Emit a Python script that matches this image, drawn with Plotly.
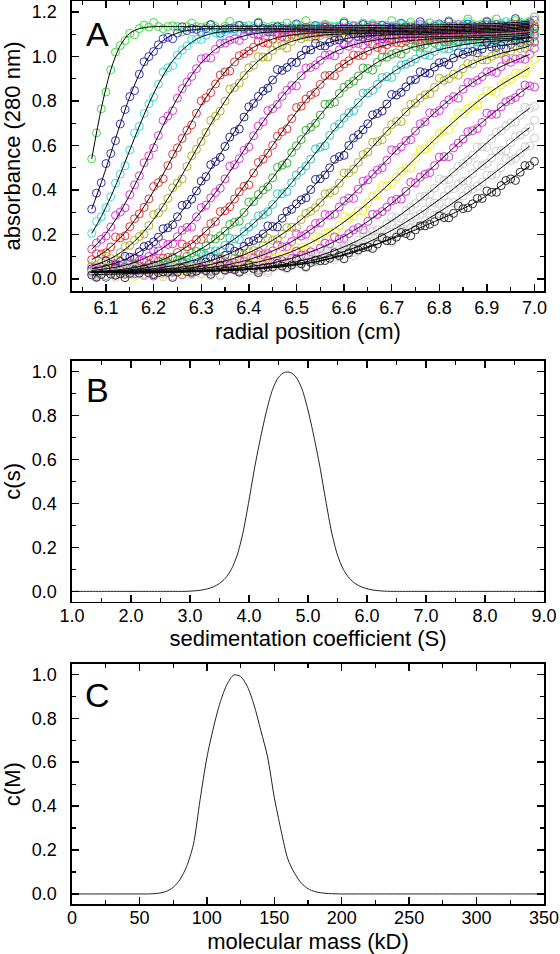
import plotly.graph_objects as go

FONT = "Liberation Sans, Arial, sans-serif"

# ---------------- Panel A data: radial scans (absorbance at 280 nm) ----------------
# fitted boundary profiles, read at these radii
radius = [6.07, 6.09, 6.11, 6.13, 6.15, 6.17, 6.19, 6.21, 6.23, 6.25, 6.27, 6.29, 6.31, 6.33, 6.35, 6.37,
          6.39, 6.41, 6.43, 6.45, 6.47, 6.49, 6.51, 6.53, 6.55, 6.57, 6.59, 6.61, 6.63, 6.65, 6.67, 6.69,
          6.71, 6.73, 6.75, 6.77, 6.79, 6.81, 6.83, 6.85, 6.87, 6.89, 6.91, 6.93, 6.95, 6.97, 6.99]
# scattered data points between them
radius_mid = [6.08, 6.10, 6.12, 6.14, 6.16, 6.18, 6.20, 6.22, 6.24, 6.26, 6.28, 6.30, 6.32, 6.34, 6.36, 6.38,
              6.40, 6.42, 6.44, 6.46, 6.48, 6.50, 6.52, 6.54, 6.56, 6.58, 6.60, 6.62, 6.64, 6.66, 6.68, 6.70,
              6.72, 6.74, 6.76, 6.78, 6.80, 6.82, 6.84, 6.86, 6.88, 6.90, 6.92, 6.94, 6.96, 6.98, 7.00]

scan01 = [0.54, 0.765, 0.94, 1.05, 1.105, 1.126, 1.133, 1.135, 1.135, 1.135, 1.135, 1.135, 1.135, 1.135, 1.136, 1.136,
          1.136, 1.136, 1.137, 1.137, 1.137, 1.137, 1.138, 1.138, 1.138, 1.138, 1.139, 1.139, 1.139, 1.14, 1.14, 1.14,
          1.141, 1.141, 1.142, 1.142, 1.143, 1.143, 1.144, 1.145, 1.146, 1.147, 1.148, 1.15, 1.152, 1.155, 1.16]
scan02 = [0.314, 0.433, 0.564, 0.697, 0.82, 0.921, 1.0, 1.053, 1.087, 1.106, 1.117, 1.122, 1.125, 1.125, 1.125, 1.126,
          1.126, 1.126, 1.127, 1.127, 1.127, 1.128, 1.128, 1.128, 1.129, 1.129, 1.13, 1.13, 1.13, 1.131, 1.131, 1.132,
          1.132, 1.133, 1.133, 1.134, 1.135, 1.135, 1.136, 1.137, 1.138, 1.139, 1.14, 1.142, 1.144, 1.147, 1.152]
scan03 = [0.205, 0.28, 0.37, 0.471, 0.58, 0.687, 0.788, 0.876, 0.95, 1.007, 1.048, 1.078, 1.096, 1.107, 1.113, 1.117,
          1.119, 1.12, 1.12, 1.12, 1.121, 1.121, 1.121, 1.122, 1.122, 1.122, 1.123, 1.123, 1.124, 1.124, 1.125, 1.125,
          1.126, 1.126, 1.127, 1.127, 1.128, 1.129, 1.13, 1.131, 1.132, 1.133, 1.134, 1.136, 1.138, 1.141, 1.146]
scan04 = [0.134, 0.178, 0.234, 0.301, 0.379, 0.464, 0.554, 0.645, 0.733, 0.813, 0.885, 0.946, 0.995, 1.033, 1.061, 1.08,
          1.093, 1.102, 1.108, 1.111, 1.113, 1.114, 1.115, 1.115, 1.115, 1.116, 1.116, 1.116, 1.117, 1.117, 1.118, 1.118,
          1.119, 1.119, 1.12, 1.12, 1.121, 1.122, 1.123, 1.124, 1.125, 1.126, 1.127, 1.129, 1.131, 1.134, 1.139]
scan05 = [0.087, 0.112, 0.144, 0.185, 0.235, 0.293, 0.36, 0.433, 0.51, 0.59, 0.668, 0.745, 0.815, 0.877, 0.931, 0.976,
          1.013, 1.042, 1.063, 1.079, 1.09, 1.097, 1.102, 1.106, 1.108, 1.109, 1.11, 1.11, 1.111, 1.111, 1.112, 1.112,
          1.113, 1.113, 1.114, 1.114, 1.115, 1.116, 1.117, 1.118, 1.119, 1.12, 1.121, 1.123, 1.125, 1.128, 1.133]
scan06 = [0.059, 0.073, 0.092, 0.118, 0.151, 0.191, 0.24, 0.297, 0.362, 0.432, 0.506, 0.583, 0.659, 0.732, 0.80, 0.861,
          0.915, 0.961, 0.998, 1.028, 1.051, 1.068, 1.08, 1.089, 1.095, 1.099, 1.101, 1.103, 1.104, 1.105, 1.105, 1.106,
          1.106, 1.107, 1.107, 1.108, 1.109, 1.11, 1.111, 1.112, 1.113, 1.114, 1.115, 1.117, 1.119, 1.122, 1.127]
scan07 = [0.046, 0.054, 0.065, 0.079, 0.098, 0.122, 0.151, 0.188, 0.23, 0.28, 0.335, 0.396, 0.46, 0.528, 0.596, 0.663,
          0.728, 0.789, 0.845, 0.895, 0.938, 0.975, 1.006, 1.03, 1.049, 1.064, 1.075, 1.083, 1.089, 1.093, 1.096, 1.098,
          1.099, 1.1, 1.1, 1.101, 1.102, 1.103, 1.104, 1.105, 1.106, 1.107, 1.108, 1.11, 1.112, 1.115, 1.12]
scan08 = [0.038, 0.043, 0.049, 0.057, 0.068, 0.083, 0.102, 0.126, 0.155, 0.19, 0.232, 0.279, 0.332, 0.389, 0.45, 0.514,
          0.579, 0.644, 0.707, 0.766, 0.821, 0.87, 0.914, 0.951, 0.983, 1.009, 1.03, 1.046, 1.059, 1.068, 1.075, 1.08,
          1.083, 1.086, 1.087, 1.088, 1.089, 1.09, 1.091, 1.092, 1.093, 1.094, 1.096, 1.098, 1.1, 1.103, 1.108]
scan09 = [0.034, 0.035, 0.038, 0.042, 0.048, 0.056, 0.066, 0.08, 0.097, 0.119, 0.145, 0.177, 0.215, 0.258, 0.307, 0.36,
          0.417, 0.477, 0.539, 0.601, 0.662, 0.721, 0.777, 0.828, 0.875, 0.916, 0.951, 0.981, 1.005, 1.025, 1.041, 1.053,
          1.063, 1.07, 1.074, 1.078, 1.08, 1.082, 1.083, 1.084, 1.085, 1.086, 1.087, 1.089, 1.091, 1.094, 1.099]
scan10 = [0.032, 0.033, 0.035, 0.038, 0.041, 0.046, 0.052, 0.06, 0.071, 0.085, 0.102, 0.124, 0.149, 0.18, 0.215, 0.255,
          0.299, 0.348, 0.40, 0.455, 0.512, 0.569, 0.627, 0.683, 0.737, 0.787, 0.834, 0.876, 0.913, 0.946, 0.974, 0.997,
          1.017, 1.032, 1.045, 1.054, 1.061, 1.067, 1.071, 1.074, 1.076, 1.077, 1.078, 1.08, 1.082, 1.085, 1.09]
scan11 = [0.031, 0.032, 0.033, 0.035, 0.037, 0.04, 0.044, 0.049, 0.056, 0.064, 0.076, 0.089, 0.107, 0.127, 0.152, 0.18,
          0.213, 0.25, 0.29, 0.335, 0.383, 0.433, 0.486, 0.539, 0.593, 0.646, 0.697, 0.747, 0.793, 0.836, 0.875, 0.91,
          0.94, 0.966, 0.989, 1.008, 1.023, 1.036, 1.045, 1.053, 1.059, 1.064, 1.068, 1.072, 1.075, 1.08, 1.085]
scan12 = [0.031, 0.031, 0.032, 0.033, 0.034, 0.036, 0.038, 0.041, 0.045, 0.05, 0.057, 0.066, 0.077, 0.09, 0.106, 0.125,
          0.147, 0.173, 0.203, 0.236, 0.273, 0.313, 0.356, 0.402, 0.451, 0.50, 0.55, 0.60, 0.649, 0.698, 0.744, 0.787,
          0.827, 0.864, 0.897, 0.927, 0.953, 0.975, 0.994, 1.01, 1.023, 1.034, 1.043, 1.05, 1.055, 1.062, 1.07]
scan13 = [0.031, 0.031, 0.031, 0.032, 0.033, 0.034, 0.035, 0.037, 0.04, 0.043, 0.048, 0.054, 0.061, 0.07, 0.081, 0.094,
          0.109, 0.128, 0.149, 0.174, 0.202, 0.233, 0.267, 0.304, 0.344, 0.387, 0.431, 0.477, 0.524, 0.571, 0.618, 0.664,
          0.708, 0.751, 0.791, 0.828, 0.862, 0.893, 0.921, 0.946, 0.967, 0.986, 1.001, 1.015, 1.025, 1.036, 1.048]
scan14 = [0.03, 0.031, 0.031, 0.031, 0.032, 0.032, 0.033, 0.035, 0.036, 0.038, 0.041, 0.045, 0.049, 0.055, 0.062, 0.071,
          0.081, 0.094, 0.108, 0.126, 0.145, 0.168, 0.193, 0.222, 0.253, 0.287, 0.324, 0.363, 0.404, 0.446, 0.49, 0.534,
          0.578, 0.622, 0.665, 0.707, 0.747, 0.785, 0.82, 0.853, 0.883, 0.91, 0.934, 0.955, 0.974, 0.992, 1.01]
scan15 = [0.03, 0.03, 0.031, 0.031, 0.031, 0.032, 0.032, 0.033, 0.034, 0.035, 0.037, 0.039, 0.042, 0.046, 0.051, 0.056,
          0.063, 0.072, 0.082, 0.094, 0.107, 0.123, 0.142, 0.163, 0.186, 0.212, 0.241, 0.272, 0.306, 0.342, 0.379, 0.418,
          0.459, 0.50, 0.543, 0.585, 0.626, 0.667, 0.706, 0.743, 0.779, 0.813, 0.844, 0.873, 0.899, 0.924, 0.95]
scan16 = [0.03, 0.03, 0.03, 0.031, 0.031, 0.031, 0.031, 0.032, 0.033, 0.033, 0.035, 0.036, 0.038, 0.041, 0.043, 0.047,
          0.052, 0.058, 0.064, 0.072, 0.082, 0.093, 0.107, 0.122, 0.139, 0.158, 0.18, 0.204, 0.231, 0.259, 0.29, 0.323,
          0.358, 0.394, 0.432, 0.471, 0.51, 0.55, 0.59, 0.629, 0.667, 0.704, 0.74, 0.774, 0.805, 0.837, 0.868]
scan17 = [0.03, 0.03, 0.03, 0.03, 0.031, 0.031, 0.031, 0.031, 0.032, 0.032, 0.033, 0.034, 0.035, 0.037, 0.039, 0.041,
          0.045, 0.048, 0.053, 0.059, 0.065, 0.073, 0.083, 0.093, 0.106, 0.12, 0.136, 0.154, 0.174, 0.197, 0.221, 0.248,
          0.276, 0.307, 0.339, 0.373, 0.408, 0.444, 0.481, 0.519, 0.556, 0.594, 0.631, 0.667, 0.702, 0.736, 0.768]
scan18 = [0.03, 0.03, 0.03, 0.03, 0.03, 0.031, 0.031, 0.031, 0.032, 0.032, 0.033, 0.034, 0.035, 0.036, 0.038, 0.04,
          0.043, 0.046, 0.05, 0.054, 0.06, 0.066, 0.073, 0.082, 0.092, 0.103, 0.116, 0.131, 0.147, 0.165, 0.185, 0.207,
          0.23, 0.256, 0.283, 0.311, 0.342, 0.373, 0.406, 0.44, 0.474, 0.509, 0.544, 0.579, 0.613, 0.648, 0.681]
scan19 = [0.03, 0.03, 0.03, 0.03, 0.03, 0.031, 0.031, 0.031, 0.031, 0.032, 0.032, 0.033, 0.035, 0.036, 0.037, 0.039,
          0.041, 0.044, 0.047, 0.051, 0.055, 0.06, 0.066, 0.073, 0.081, 0.091, 0.101, 0.113, 0.126, 0.141, 0.157, 0.175,
          0.194, 0.216, 0.238, 0.262, 0.288, 0.315, 0.344, 0.373, 0.404, 0.435, 0.467, 0.50, 0.533, 0.565, 0.598]
scan20 = [0.018, 0.02, 0.022, 0.023, 0.025, 0.026, 0.027, 0.028, 0.03, 0.031, 0.033, 0.035, 0.037, 0.038, 0.04, 0.042,
          0.044, 0.047, 0.05, 0.054, 0.058, 0.063, 0.068, 0.074, 0.082, 0.093, 0.105, 0.118, 0.131, 0.145, 0.157, 0.172,
          0.188, 0.204, 0.221, 0.239, 0.258, 0.276, 0.295, 0.316, 0.338, 0.362, 0.39, 0.42, 0.45, 0.48, 0.51]

mid01 = [0.657, 0.841, 1.02, 1.072, 1.098, 1.142, 1.154, 1.126, 1.138, 1.111, 1.151, 1.131, 1.145, 1.119, 1.158, 1.142,
         1.123, 1.155, 1.117, 1.138, 1.151, 1.128, 1.162, 1.122, 1.145, 1.134, 1.158, 1.118, 1.151, 1.143, 1.126, 1.162,
         1.133, 1.155, 1.123, 1.152, 1.14, 1.161, 1.134, 1.169, 1.14, 1.16, 1.169, 1.136, 1.162, 1.136, 1.178]
mid02 = [0.386, 0.519, 0.622, 0.762, 0.847, 0.977, 1.023, 1.08, 1.08, 1.134, 1.126, 1.111, 1.143, 1.105, 1.127, 1.14,
         1.116, 1.151, 1.111, 1.134, 1.123, 1.147, 1.107, 1.14, 1.132, 1.116, 1.151, 1.122, 1.144, 1.112, 1.141, 1.129,
         1.15, 1.122, 1.157, 1.128, 1.147, 1.156, 1.122, 1.146, 1.117, 1.155, 1.145, 1.131, 1.171, 1.144, 1.137]
mid03 = [0.259, 0.321, 0.431, 0.509, 0.656, 0.744, 0.819, 0.931, 0.959, 1.029, 1.077, 1.077, 1.126, 1.094, 1.122, 1.113,
         1.139, 1.099, 1.131, 1.124, 1.107, 1.142, 1.114, 1.135, 1.103, 1.132, 1.12, 1.141, 1.113, 1.148, 1.118, 1.138,
         1.146, 1.112, 1.135, 1.106, 1.144, 1.134, 1.119, 1.157, 1.127, 1.116, 1.147, 1.157, 1.131, 1.147, 1.125]
mid04 = [0.162, 0.193, 0.286, 0.32, 0.423, 0.523, 0.59, 0.713, 0.757, 0.856, 0.911, 0.99, 0.993, 1.058, 1.074, 1.073,
         1.119, 1.097, 1.123, 1.093, 1.123, 1.112, 1.132, 1.104, 1.139, 1.109, 1.128, 1.137, 1.102, 1.126, 1.096, 1.134,
         1.123, 1.108, 1.145, 1.115, 1.104, 1.135, 1.144, 1.116, 1.129, 1.103, 1.144, 1.126, 1.143, 1.12, 1.164]
mid05 = [0.114, 0.118, 0.189, 0.194, 0.271, 0.322, 0.416, 0.451, 0.561, 0.632, 0.693, 0.801, 0.838, 0.917, 0.935, 1.004,
         1.025, 1.07, 1.06, 1.108, 1.087, 1.112, 1.124, 1.092, 1.117, 1.088, 1.125, 1.115, 1.099, 1.137, 1.106, 1.095,
         1.125, 1.134, 1.105, 1.118, 1.092, 1.133, 1.114, 1.129, 1.103, 1.143, 1.128, 1.111, 1.145, 1.111, 1.137]
mid06 = [0.061, 0.102, 0.084, 0.146, 0.174, 0.202, 0.29, 0.322, 0.41, 0.45, 0.554, 0.618, 0.713, 0.755, 0.854, 0.881,
         0.95, 1.0, 0.998, 1.048, 1.038, 1.089, 1.089, 1.08, 1.122, 1.094, 1.084, 1.116, 1.125, 1.096, 1.109, 1.082,
         1.123, 1.103, 1.118, 1.092, 1.132, 1.117, 1.099, 1.131, 1.094, 1.116, 1.13, 1.108, 1.145, 1.109, 1.137]
mid07 = [0.036, 0.081, 0.064, 0.102, 0.091, 0.146, 0.167, 0.226, 0.244, 0.331, 0.359, 0.44, 0.514, 0.547, 0.638, 0.674,
         0.774, 0.821, 0.858, 0.942, 0.951, 0.973, 1.03, 1.06, 1.048, 1.073, 1.055, 1.102, 1.087, 1.105, 1.08, 1.121,
         1.106, 1.087, 1.119, 1.082, 1.104, 1.118, 1.095, 1.13, 1.091, 1.115, 1.104, 1.13, 1.093, 1.129, 1.126]
mid08 = [0.05, 0.043, 0.07, 0.052, 0.099, 0.086, 0.126, 0.161, 0.158, 0.219, 0.234, 0.321, 0.365, 0.408, 0.507, 0.541,
         0.594, 0.688, 0.757, 0.785, 0.849, 0.868, 0.949, 0.963, 1.006, 1.003, 1.06, 1.059, 1.051, 1.09, 1.058, 1.083,
         1.099, 1.077, 1.112, 1.073, 1.097, 1.086, 1.111, 1.072, 1.105, 1.098, 1.083, 1.12, 1.094, 1.119, 1.092]
mid09 = [0.028, 0.049, 0.06, 0.03, 0.06, 0.039, 0.088, 0.093, 0.096, 0.157, 0.155, 0.178, 0.249, 0.303, 0.325, 0.392,
         0.423, 0.524, 0.566, 0.642, 0.675, 0.771, 0.809, 0.839, 0.914, 0.914, 0.967, 1.007, 1.005, 1.057, 1.031, 1.065,
         1.062, 1.091, 1.055, 1.09, 1.084, 1.069, 1.105, 1.077, 1.099, 1.068, 1.097, 1.087, 1.11, 1.086, 1.125]
mid10 = [0.011, 0.049, 0.041, 0.028, 0.069, 0.043, 0.038, 0.078, 0.098, 0.085, 0.116, 0.113, 0.181, 0.194, 0.245, 0.26,
         0.346, 0.38, 0.415, 0.502, 0.521, 0.599, 0.669, 0.70, 0.786, 0.795, 0.862, 0.89, 0.949, 0.939, 0.997, 1.01,
         1.011, 1.06, 1.042, 1.071, 1.045, 1.078, 1.07, 1.092, 1.066, 1.101, 1.072, 1.093, 1.104, 1.073, 1.101]
mid11 = [0.026, 0.015, 0.046, 0.056, 0.03, 0.045, 0.023, 0.069, 0.056, 0.08, 0.066, 0.12, 0.123, 0.127, 0.184, 0.177,
         0.233, 0.284, 0.303, 0.383, 0.392, 0.467, 0.508, 0.585, 0.599, 0.683, 0.725, 0.756, 0.836, 0.848, 0.906, 0.906,
         0.962, 0.975, 1.016, 1.005, 1.053, 1.034, 1.061, 1.076, 1.047, 1.074, 1.048, 1.089, 1.082, 1.071, 1.113]
mid12 = [0.034, 0.008, 0.049, 0.03, 0.045, 0.02, 0.062, 0.049, 0.035, 0.072, 0.042, 0.073, 0.098, 0.088, 0.14, 0.12,
         0.167, 0.183, 0.239, 0.234, 0.304, 0.338, 0.365, 0.448, 0.468, 0.538, 0.556, 0.634, 0.671, 0.738, 0.755, 0.83,
         0.839, 0.893, 0.932, 0.925, 0.972, 0.963, 1.017, 1.021, 1.017, 1.064, 1.041, 1.035, 1.071, 1.086, 1.065]
mid13 = [0.014, 0.053, 0.038, 0.02, 0.052, 0.015, 0.037, 0.053, 0.032, 0.07, 0.035, 0.065, 0.061, 0.095, 0.067, 0.113,
         0.122, 0.125, 0.183, 0.18, 0.231, 0.231, 0.295, 0.321, 0.383, 0.398, 0.477, 0.494, 0.56, 0.615, 0.626, 0.694,
         0.708, 0.786, 0.814, 0.833, 0.903, 0.901, 0.916, 0.969, 0.997, 0.985, 1.011, 0.996, 1.047, 1.038, 1.064]
mid14 = [0.011, 0.032, 0.045, 0.022, 0.056, 0.017, 0.041, 0.031, 0.056, 0.019, 0.054, 0.05, 0.038, 0.08, 0.059, 0.089,
         0.069, 0.11, 0.114, 0.153, 0.146, 0.204, 0.201, 0.25, 0.29, 0.291, 0.352, 0.362, 0.44, 0.472, 0.50, 0.581,
         0.594, 0.626, 0.698, 0.747, 0.757, 0.806, 0.813, 0.884, 0.893, 0.932, 0.928, 0.987, 0.989, 0.988, 1.037]
mid15 = [0.014, 0.038, 0.026, 0.05, 0.011, 0.043, 0.036, 0.02, 0.056, 0.028, 0.051, 0.022, 0.053, 0.046, 0.071, 0.049,
         0.091, 0.07, 0.10, 0.121, 0.10, 0.141, 0.131, 0.19, 0.203, 0.215, 0.282, 0.283, 0.306, 0.373, 0.419, 0.43,
         0.483, 0.498, 0.58, 0.602, 0.657, 0.67, 0.747, 0.767, 0.783, 0.847, 0.839, 0.887, 0.926, 0.927, 0.987]
mid16 = [0.041, 0.033, 0.017, 0.052, 0.023, 0.044, 0.013, 0.042, 0.03, 0.051, 0.025, 0.06, 0.033, 0.054, 0.065, 0.035,
         0.063, 0.039, 0.083, 0.081, 0.076, 0.125, 0.109, 0.113, 0.161, 0.189, 0.183, 0.221, 0.221, 0.291, 0.303, 0.351,
         0.359, 0.435, 0.458, 0.478, 0.548, 0.55, 0.611, 0.662, 0.676, 0.746, 0.741, 0.797, 0.816, 0.872, 0.863]
mid17 = [0.043, 0.011, 0.039, 0.028, 0.048, 0.02, 0.054, 0.025, 0.044, 0.053, 0.019, 0.043, 0.014, 0.053, 0.044, 0.031,
         0.072, 0.045, 0.038, 0.074, 0.089, 0.069, 0.091, 0.076, 0.129, 0.124, 0.155, 0.147, 0.208, 0.215, 0.222, 0.28,
         0.272, 0.324, 0.37, 0.381, 0.45, 0.447, 0.507, 0.533, 0.594, 0.592, 0.66, 0.688, 0.705, 0.773, 0.776]
mid18 = [0.019, 0.053, 0.023, 0.042, 0.051, 0.016, 0.039, 0.01, 0.047, 0.037, 0.022, 0.06, 0.03, 0.019, 0.051, 0.062,
         0.036, 0.051, 0.028, 0.073, 0.059, 0.08, 0.061, 0.109, 0.104, 0.097, 0.142, 0.119, 0.157, 0.189, 0.186, 0.243,
         0.227, 0.277, 0.292, 0.346, 0.337, 0.401, 0.426, 0.443, 0.513, 0.519, 0.575, 0.577, 0.64, 0.662, 0.714]
mid19 = [0.015, 0.038, 0.008, 0.045, 0.035, 0.019, 0.056, 0.025, 0.014, 0.044, 0.053, 0.025, 0.039, 0.013, 0.054, 0.036,
         0.053, 0.029, 0.071, 0.059, 0.045, 0.081, 0.05, 0.078, 0.10, 0.086, 0.131, 0.104, 0.141, 0.144, 0.185, 0.164,
         0.216, 0.23, 0.236, 0.296, 0.294, 0.343, 0.34, 0.398, 0.417, 0.468, 0.473, 0.54, 0.542, 0.594, 0.634]
mid20 = [0.007, 0.046, 0.017, 0.006, 0.038, 0.047, 0.019, 0.032, 0.007, 0.048, 0.03, 0.046, 0.021, 0.061, 0.047, 0.03,
         0.064, 0.029, 0.053, 0.07, 0.051, 0.09, 0.055, 0.085, 0.083, 0.118, 0.091, 0.136, 0.141, 0.137, 0.186, 0.172,
         0.209, 0.194, 0.239, 0.246, 0.284, 0.275, 0.329, 0.32, 0.362, 0.396, 0.39, 0.443, 0.443, 0.51, 0.529]

scans = [scan01, scan02, scan03, scan04, scan05, scan06, scan07, scan08, scan09, scan10,
         scan11, scan12, scan13, scan14, scan15, scan16, scan17, scan18, scan19, scan20]
mids = [mid01, mid02, mid03, mid04, mid05, mid06, mid07, mid08, mid09, mid10,
        mid11, mid12, mid13, mid14, mid15, mid16, mid17, mid18, mid19, mid20]
scan_colors = ["#3ee03e", "#3434c8", "#38dede", "#e036e0", "#e83434", "#b0b024", "#24249a", "#e036e0",
               "#e83434", "#34b034", "#34c4c4", "#24249a", "#b0b024", "#e036e0", "#f2f222", "#d634d6",
               "#cdcdcd", "#cdcdcd", "#cdcdcd", "#303030"]

# ---------------- Panel B data: c(s) distribution ----------------
s_values = [1.0, 1.1, 1.2, 1.3, 1.4, 1.5, 1.6, 1.7, 1.8, 1.9, 2.0, 2.1, 2.2, 2.3, 2.4, 2.5, 2.6, 2.7, 2.8, 2.9,
            3.0, 3.1, 3.2, 3.3, 3.4, 3.5, 3.6, 3.7, 3.8, 3.9, 4.0, 4.1, 4.2, 4.3, 4.4, 4.5, 4.6, 4.7, 4.8, 4.9,
            5.0, 5.1, 5.2, 5.3, 5.4, 5.5, 5.6, 5.7, 5.8, 5.9, 6.0, 6.1, 6.2, 6.3, 6.4, 6.5, 6.6, 6.7, 6.8, 6.9,
            7.0, 7.1, 7.2, 7.3, 7.4, 7.5, 7.6, 7.7, 7.8, 7.9, 8.0, 8.1, 8.2, 8.3, 8.4, 8.5, 8.6, 8.7, 8.8, 8.9, 9.0]
c_s = [0, 0, 0, 0, 0, 0, 0, 0, 0, 0, 0, 0, 0, 0, 0, 0, 0, 0, 0, 0,
       0.001, 0.003, 0.006, 0.012, 0.021, 0.036, 0.06, 0.10, 0.165, 0.27, 0.415, 0.57, 0.705, 0.825, 0.92, 0.975, 0.997, 0.997, 0.975, 0.92,
       0.825, 0.705, 0.57, 0.415, 0.27, 0.165, 0.10, 0.06, 0.036, 0.021, 0.012, 0.006, 0.003, 0.001, 0, 0, 0, 0, 0, 0,
       0, 0, 0, 0, 0, 0, 0, 0, 0, 0, 0, 0, 0, 0, 0, 0, 0, 0, 0, 0, 0]

# ---------------- Panel C data: c(M) distribution ----------------
mass_kd = [0, 5, 10, 15, 20, 25, 30, 35, 40, 45, 50, 55, 60, 65, 70, 75, 80, 85, 90, 95, 100, 105, 110, 115,
           120, 125, 130, 135, 140, 145, 150, 155, 160, 165, 170, 175, 180, 185, 190, 195, 200, 205, 210, 215,
           220, 225, 230, 235, 240, 245, 250, 255, 260, 265, 270, 275, 280, 285, 290, 295, 300, 305, 310, 315,
           320, 325, 330, 335, 340, 345, 350]
c_m = [0, 0, 0, 0, 0, 0, 0, 0, 0, 0, 0, 0, 0.001, 0.004, 0.012, 0.03, 0.065, 0.125, 0.225, 0.43, 0.62, 0.76, 0.875, 0.955,
       0.997, 0.99, 0.945, 0.86, 0.745, 0.625, 0.44, 0.29, 0.16, 0.095, 0.05, 0.024, 0.011, 0.005, 0.002, 0.001, 0, 0, 0, 0,
       0, 0, 0, 0, 0, 0, 0, 0, 0, 0, 0, 0, 0, 0, 0, 0, 0, 0, 0, 0,
       0, 0, 0, 0, 0, 0, 0]

fig = go.Figure()

# data circles
for vals, mvals, col in zip(scans, mids, scan_colors):
    for xs, ys in ((radius, vals), (radius_mid, mvals)):
        fig.add_trace(go.Scatter(x=xs, y=ys, mode="markers", xaxis="x", yaxis="y",
                                 marker=dict(symbol="circle-open", size=8, color=col, line=dict(width=1)),
                                 showlegend=False, hoverinfo="skip"))
# fit lines
for vals in scans:
    fig.add_trace(go.Scatter(x=radius, y=vals, mode="lines", xaxis="x", yaxis="y",
                             line=dict(color="black", width=1, shape="spline", smoothing=0.8),
                             showlegend=False, hoverinfo="skip"))

fig.add_trace(go.Scatter(x=s_values, y=c_s, mode="lines", xaxis="x2", yaxis="y2",
                         line=dict(color="#222222", width=1, shape="spline", smoothing=0.8), showlegend=False))
fig.add_trace(go.Scatter(x=mass_kd, y=c_m, mode="lines", xaxis="x3", yaxis="y3",
                         line=dict(color="#222222", width=1, shape="spline", smoothing=0.8), showlegend=False))

tickfont = dict(family=FONT, size=18, color="black")
titlefont = dict(family=FONT, size=22, color="black")


def ax(**kw):
    base = dict(showline=True, linecolor="black", linewidth=1.6, mirror="allticks",
                ticks="inside", ticklen=7, tickwidth=1.4, tickcolor="black",
                showgrid=False, zeroline=False, tickfont=tickfont, automargin=False)
    base.update(kw)
    return base


MINOR = dict(ticks="inside", ticklen=4, tickwidth=1.2, tickcolor="black")

fig.update_layout(
    width=560, height=954,
    margin=dict(l=72, r=16, t=0, b=0),
    paper_bgcolor="white", plot_bgcolor="white",
    font=dict(family=FONT, color="black"),
    xaxis=ax(domain=[0, 1], anchor="y", range=[6.0286, 7.02], tick0=6.0, dtick=0.1, tickformat=".1f",
             minor=dict(MINOR, dtick=0.05, tick0=6.0),
             title=dict(text="radial position (cm)", font=titlefont, standoff=6), ticklabelstandoff=0),
    yaxis=ax(domain=[0.69497, 0.99895], anchor="x", range=[-0.054, 1.25], tick0=0, dtick=0.2, tickformat=".1f",
             minor=dict(MINOR, dtick=0.1, tick0=0),
             title=dict(text="absorbance (280 nm)", font=titlefont, standoff=5), ticklabelstandoff=10),
    xaxis2=ax(domain=[0, 1], anchor="y2", range=[1, 9], tick0=1, dtick=1, tickformat=".1f",
              minor=dict(MINOR, dtick=0.5, tick0=1),
              title=dict(text="sedimentation coefficient (S)", font=titlefont, standoff=5), ticklabelstandoff=-3),
    yaxis2=ax(domain=[0.36929, 0.62159], anchor="x2", range=[-0.047, 1.049], tick0=0, dtick=0.2, tickformat=".1f",
              minor=dict(MINOR, dtick=0.1, tick0=0),
              title=dict(text="c(s)", font=titlefont, standoff=5), ticklabelstandoff=10),
    xaxis3=ax(domain=[0, 1], anchor="y3", range=[0, 350], tick0=0, dtick=50,
              minor=dict(MINOR, dtick=25, tick0=0),
              title=dict(text="molecular mass (kD)", font=titlefont, standoff=6), ticklabelstandoff=-3),
    yaxis3=ax(domain=[0.05210, 0.30398], anchor="x3", range=[-0.047, 1.047], tick0=0, dtick=0.2, tickformat=".1f",
              minor=dict(MINOR, dtick=0.1, tick0=0),
              title=dict(text="c(M)", font=titlefont, standoff=5), ticklabelstandoff=10),
)

letter_font = dict(family=FONT, size=34, color="black")
for lab, xr, yr, yy in [("A", "x domain", "y domain", 0.886), ("B", "x2 domain", "y2 domain", 0.88),
                        ("C", "x3 domain", "y3 domain", 0.871)]:
    fig.add_annotation(text=lab, x=0.053, y=yy, xref=xr, yref=yr, showarrow=False,
                       xanchor="center", yanchor="middle", font=letter_font)

fig.write_html("out.html", config={"displayModeBar": False, "staticPlot": True},
               post_script="document.body.style.margin='0';document.body.style.padding='0';"
                           "document.body.style.overflow='hidden';")
